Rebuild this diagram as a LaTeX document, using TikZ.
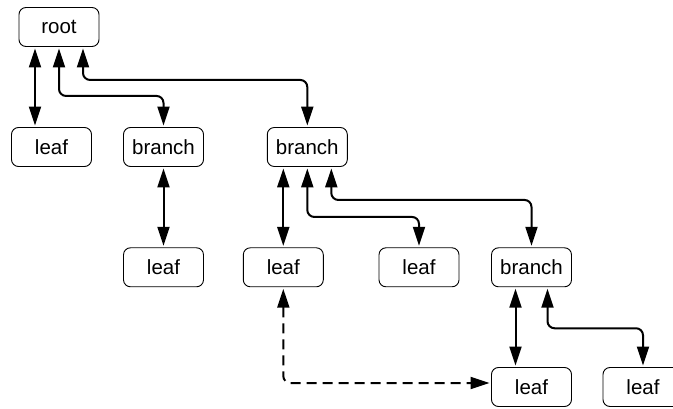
\documentclass[tikz,border=0pt]{standalone}
\usepackage{fontspec}
\setmainfont{Liberation Sans}
\usetikzlibrary{arrows.meta}
\begin{document}
\begin{tikzpicture}[x=1pt,y=-1pt,
  box/.style={draw, line width=0.9pt, rounded corners=7pt, minimum width=80pt, minimum height=39pt, inner sep=0pt, font=\fontsize{20.5}{24}\selectfont},
  tip/.tip={Triangle[length=19pt,width=12pt]},
  link/.style={line width=2pt, rounded corners=7pt, tip-tip, shorten <=1.5pt, shorten >=1.5pt},
  dlink/.style={link, dash pattern=on 10pt off 6pt}]
\clip (0,0) rectangle (673,409);
\useasboundingbox (0,0) rectangle (673,409);
\node[box] (root) at (59,27) {root};
\node[box] (leaf1) at (51.5,147) {leaf};
\node[box] (branch1) at (163.5,147) {branch};
\node[box] (branch2) at (307.3,147) {branch};
\node[box] (leaf2) at (163.5,267.3) {leaf};
\node[box] (leaf3) at (283.3,267.3) {leaf};
\node[box] (leaf4) at (419,267.3) {leaf};
\node[box] (branch3) at (531.5,267.3) {branch};
\node[box] (leaf5) at (531.5,387) {leaf};
\node[box] (leaf6) at (643,387) {leaf};
\draw[link] ([xshift=-24pt]root.south) -- ([xshift=-24pt]root.south |- leaf1.north);
\draw[link] (root.south) -- ++(0,49) -| (branch1.north);
\draw[link] ([xshift=24pt]root.south) -- ++(0,33) -| (branch2.north);
\draw[link] (branch1.south) -- (leaf2.north);
\draw[link] ([xshift=-24pt]branch2.south) -- ([xshift=-24pt]branch2.south |- leaf3.north);
\draw[link] (branch2.south) -- ++(0,50) -| (leaf4.north);
\draw[link] ([xshift=24pt]branch2.south) -- ++(0,33) -| (branch3.north);
\draw[link] ([xshift=-16pt]branch3.south) -- ([xshift=-16pt]branch3.south |- leaf5.north);
\draw[link] ([xshift=16pt]branch3.south) -- ++(0,41) -| (leaf6.north);
\draw[dlink] (leaf3.south) |- ([yshift=4pt]leaf5.west);
\end{tikzpicture}
\end{document}
